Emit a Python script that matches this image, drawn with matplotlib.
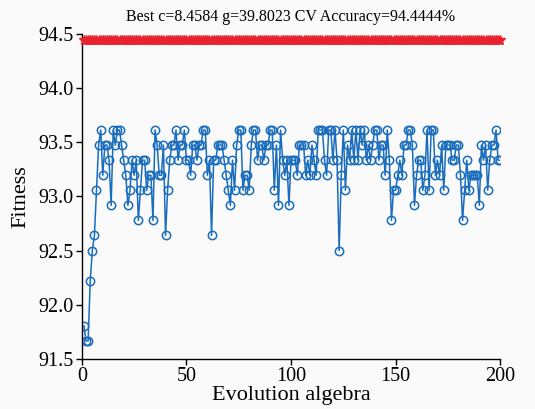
import matplotlib
matplotlib.use("Agg")
import matplotlib.pyplot as plt
import numpy as np

# fitness levels seen in the plot (accuracy steps of 1/7.2)
A, B, C, D, E, F, G, H = 93.611, 93.472, 93.333, 93.194, 93.056, 92.917, 92.778, 92.639

generations = list(range(1, 201))
best_cv = [94.4444] * 200
fitness = [
    91.806, 91.667, 91.667, 92.222, 92.5, 92.639, E, B, A, D,
    B, B, C, F, A, B, A, A, B, C,
    D, F, E, C, D, C, G, E, C, C,
    E, D, D, G, A, B, D, D, B, H,
    E, C, B, B, A, C, B, B, A, C,
    C, D, B, B, C, B, B, A, A, D,
    C, H, C, C, B, B, B, C, D, E,
    F, C, E, B, A, A, E, D, D, E,
    B, A, A, C, B, B, C, B, B, A,
    A, E, B, F, A, C, D, C, F, C,
    C, C, D, B, B, B, D, C, D, B,
    C, D, A, A, A, C, D, A, A, C,
    A, C, 92.5, D, A, E, B, C, A, C,
    A, C, A, B, A, C, B, C, B, A,
    A, C, B, B, D, A, C, G, E, E,
    D, C, D, B, B, A, A, B, F, D,
    C, C, E, D, A, E, A, A, D, C,
    D, B, E, B, B, B, C, C, B, B,
    D, G, E, C, E, D, D, D, D, F,
    B, C, B, E, C, B, B, A, C, C,
]

plt.rcParams["font.family"] = "Liberation Serif"

fig = plt.figure(figsize=(5.35, 4.09), dpi=100, facecolor="#fafafa")
ax = fig.add_axes([0.153, 0.122, 0.782, 0.796], facecolor="#fafafa")

ax.plot(generations, best_cv, color="#e8222c", marker="*", markersize=7,
        linewidth=1.2, clip_on=False, zorder=3)
ax.plot(generations, fitness, color="#1a6dbd", marker="o", markersize=6,
        markerfacecolor="none", markeredgewidth=1.1, linewidth=1.1, zorder=2)

ax.set_xlim(0, 200)
ax.set_ylim(91.5, 94.5)
ax.set_xticks([0, 50, 100, 150, 200])
ax.set_yticks(np.arange(91.5, 94.51, 0.5))
ax.set_yticklabels([f"{v:.1f}" for v in np.arange(91.5, 94.51, 0.5)])
ax.tick_params(direction="out", length=4, width=1, labelsize=14.5, pad=2)
for s in ("top", "right"):
    ax.spines[s].set_visible(False)
for s in ("left", "bottom"):
    ax.spines[s].set_linewidth(1.0)

ax.set_xlabel("Evolution algebra", fontsize=16, labelpad=0)
ax.set_ylabel("Fitness", fontsize=16, labelpad=6)
ax.set_title("Best c=8.4584 g=39.8023 CV Accuracy=94.4444%", fontsize=11.5, pad=9)

fig.savefig("out.png", dpi=100, facecolor=fig.get_facecolor())
